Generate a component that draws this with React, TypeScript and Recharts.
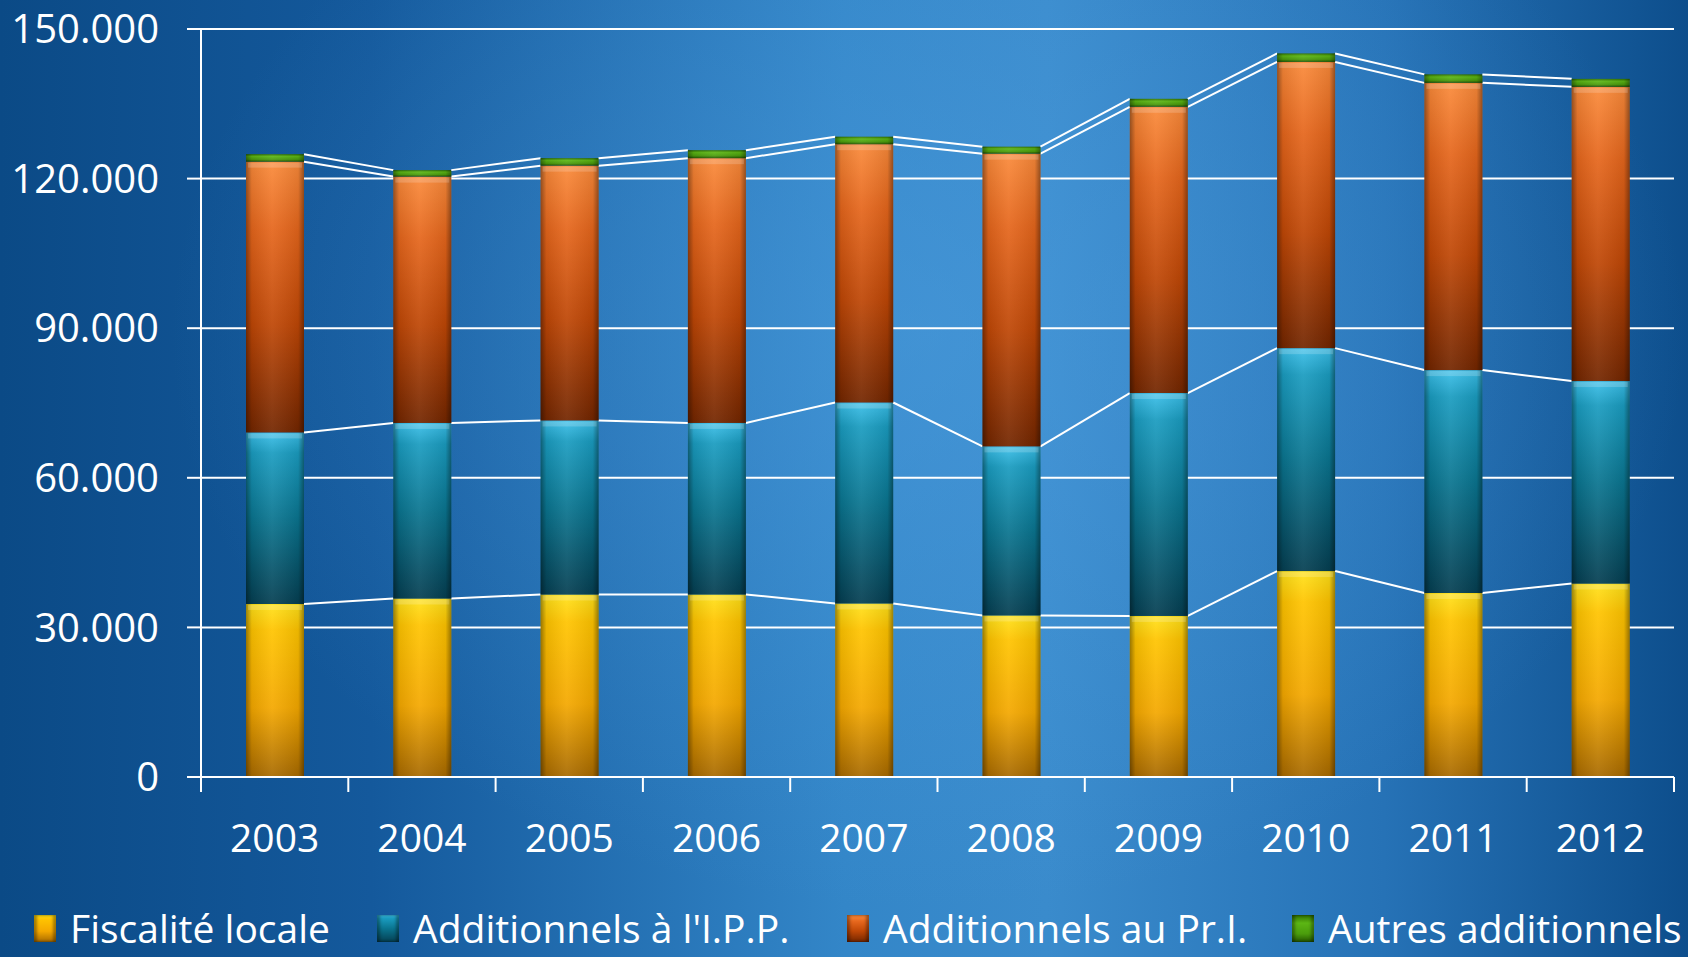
import { BarChart, Bar, XAxis, YAxis, CartesianGrid } from 'recharts';

// values (thousands of euros, stacked)
const years = ['2003', '2004', '2005', '2006', '2007', '2008', '2009', '2010', '2011', '2012'];
const fiscaliteLocale = [34700, 35800, 36600, 36600, 34800, 32400, 32300, 41300, 36900, 38800];
const additionnelsIPP = [34400, 35200, 34900, 34400, 40300, 33900, 44700, 44700, 44700, 40600];
const additionnelsPrI = [54300, 49400, 51100, 53100, 51800, 58700, 57400, 57400, 57600, 59000];
const autresAdditionnels = [1500, 1300, 1500, 1600, 1500, 1400, 1600, 1700, 1700, 1600];
const yTicks = [0, 30000, 60000, 90000, 120000, 150000];

const seriesKeys = ['fiscalite', 'ipp', 'pri', 'autres'];
const seriesNames = ['Fiscalité locale', "Additionnels à l'I.P.P.", 'Additionnels au Pr.I.', 'Autres additionnels'];
const seriesValues = [fiscaliteLocale, additionnelsIPP, additionnelsPrI, autresAdditionnels];

const data = years.map((year, i) => ({
  year,
  fiscalite: fiscaliteLocale[i],
  ipp: additionnelsIPP[i],
  pri: additionnelsPrI[i],
  autres: autresAdditionnels[i],
}));

const W = 1688;
const H = 957;
const MARGIN = { top: 29, right: 14, left: 0, bottom: 0 };
const Y_AXIS_W = 201;
const X_AXIS_H = 180;
const PLOT_W = W - MARGIN.right - MARGIN.left - Y_AXIS_W;
const BAND = PLOT_W / years.length;
const FONT = '"Open Sans", "Noto Sans", sans-serif';

// vertical colour stops per series (top -> bottom)
const gradients: Record<string, [number, string][]> = {
  fiscalite: [[0, '#ffe21a'], [0.15, '#ffc400'], [0.6, '#f4a800'], [1, '#a86a00']],
  ipp: [[0, '#3cc0ea'], [0.12, '#1a9cc0'], [0.5, '#0a7590'], [1, '#053f52']],
  pri: [[0, '#fa8a3a'], [0.25, '#e5661c'], [0.6, '#bf4706'], [1, '#732600']],
  autres: [[0, '#2f7000'], [0.3, '#5cb614'], [0.7, '#4a9c0c'], [1, '#245500']],
};

const legendX = [34, 377, 847, 1292];

const cumulative = (s: number, i: number) => {
  let t = 0;
  for (let k = 0; k <= s; k++) t += seriesValues[k][i];
  return t;
};

const fmt = (v: number) => String(v).replace(/\B(?=(\d{3})+(?!\d))/g, '.');

const makeShape = (s: number) => (props: any) => {
  const { x, y, width, height, payload } = props;
  const i = years.indexOf(payload.year);
  const own = seriesValues[s][i];
  const scale = own > 0 ? height / own : 0;
  let link = null;
  if (i < years.length - 1) {
    const ny = y - (cumulative(s, i + 1) - cumulative(s, i)) * scale;
    link = <line x1={x + width} y1={y} x2={x + BAND} y2={ny} stroke="#fff" strokeWidth={2} />;
  }
  return (
    <g>
      <rect x={x} y={y} width={width} height={height} fill={`url(#grad-${seriesKeys[s]})`} />
      <rect x={x} y={y} width={width} height={height} fill="url(#bevel)" />
      {s < 3 && <rect x={x + 2} y={y + 1} width={width - 4} height={Math.min(5, height)} fill="rgba(255,255,255,0.18)" />}
      {link}
    </g>
  );
};

const XTick = (props: any) => {
  const { x, y, payload, index } = props;
  const half = BAND / 2;
  return (
    <g>
      <line x1={x - half} x2={x - half} y1={y} y2={y + 15} stroke="#fff" strokeWidth={2} />
      {index === years.length - 1 && <line x1={x + half} x2={x + half} y1={y} y2={y + 15} stroke="#fff" strokeWidth={2} />}
      <text x={x} y={y + 59} textAnchor="middle" dominantBaseline="central" fill="#fff" fontSize={39} fontFamily={FONT}>
        {payload.value}
      </text>
    </g>
  );
};

export default function App() {
  return (
    <div
      style={{
        position: 'relative',
        width: W,
        height: H,
        overflow: 'hidden',
        background:
          'radial-gradient(ellipse 45% 60% at 55% 35%, rgba(80,160,225,0.45), rgba(80,160,225,0) 100%), linear-gradient(90deg, #0b4a86 0%, #14599c 22%, #3386c8 50%, #3a8bcc 62%, #2672b6 82%, #0d4e8c 100%)',
        fontFamily: FONT,
      }}
    >
      <style>{'body{margin:0}'}</style>
      <BarChart width={W} height={H} data={data} margin={MARGIN} barSize={58}>
        <defs>
          {seriesKeys.map((k) => (
            <linearGradient key={k} id={`grad-${k}`} x1="0" y1="0" x2="0" y2="1">
              {gradients[k].map(([o, c]) => (
                <stop key={o} offset={o} stopColor={c} />
              ))}
            </linearGradient>
          ))}
          <linearGradient id="bevel" x1="0" y1="0" x2="1" y2="0">
            <stop offset="0" stopColor="#000" stopOpacity={0.4} />
            <stop offset="0.1" stopColor="#000" stopOpacity={0.08} />
            <stop offset="0.45" stopColor="#fff" stopOpacity={0.07} />
            <stop offset="0.9" stopColor="#000" stopOpacity={0.08} />
            <stop offset="1" stopColor="#000" stopOpacity={0.4} />
          </linearGradient>
        </defs>
        <CartesianGrid vertical={false} stroke="#fff" strokeWidth={2} />
        <XAxis
          dataKey="year"
          height={X_AXIS_H}
          axisLine={{ stroke: '#fff', strokeWidth: 2 }}
          tickLine={false}
          tickSize={0}
          tickMargin={0}
          interval={0}
          tick={<XTick />}
        />
        <YAxis
          width={Y_AXIS_W}
          domain={[0, 150000]}
          ticks={yTicks}
          tickFormatter={fmt}
          axisLine={{ stroke: '#fff', strokeWidth: 2 }}
          tickLine={{ stroke: '#fff', strokeWidth: 2 }}
          tickSize={14}
          tickMargin={28}
          tick={{ fill: '#fff', fontSize: 40, fontFamily: FONT }}
        />
        {seriesKeys.map((k, s) => (
          <Bar key={k} dataKey={k} name={seriesNames[s]} stackId="a" isAnimationActive={false} shape={makeShape(s)} />
        ))}
      </BarChart>
      {seriesNames.map((n, s) => {
        const g = gradients[seriesKeys[s]];
        return (
          <div
            key={n}
            style={{ position: 'absolute', left: legendX[s], top: 905, height: 46, lineHeight: '46px', display: 'flex', alignItems: 'center', color: '#fff', fontSize: 39, whiteSpace: 'nowrap' }}
          >
            <span
              style={{
                display: 'inline-block',
                width: 22,
                height: 27,
                marginRight: 14,
                background: `linear-gradient(180deg, ${g.map(([o, c]) => `${c} ${o * 100}%`).join(', ')})`,
                boxShadow: 'inset 3px 0 3px rgba(0,0,0,0.35), inset -3px 0 3px rgba(0,0,0,0.35)',
              }}
            />
            {n}
          </div>
        );
      })}
    </div>
  );
}
